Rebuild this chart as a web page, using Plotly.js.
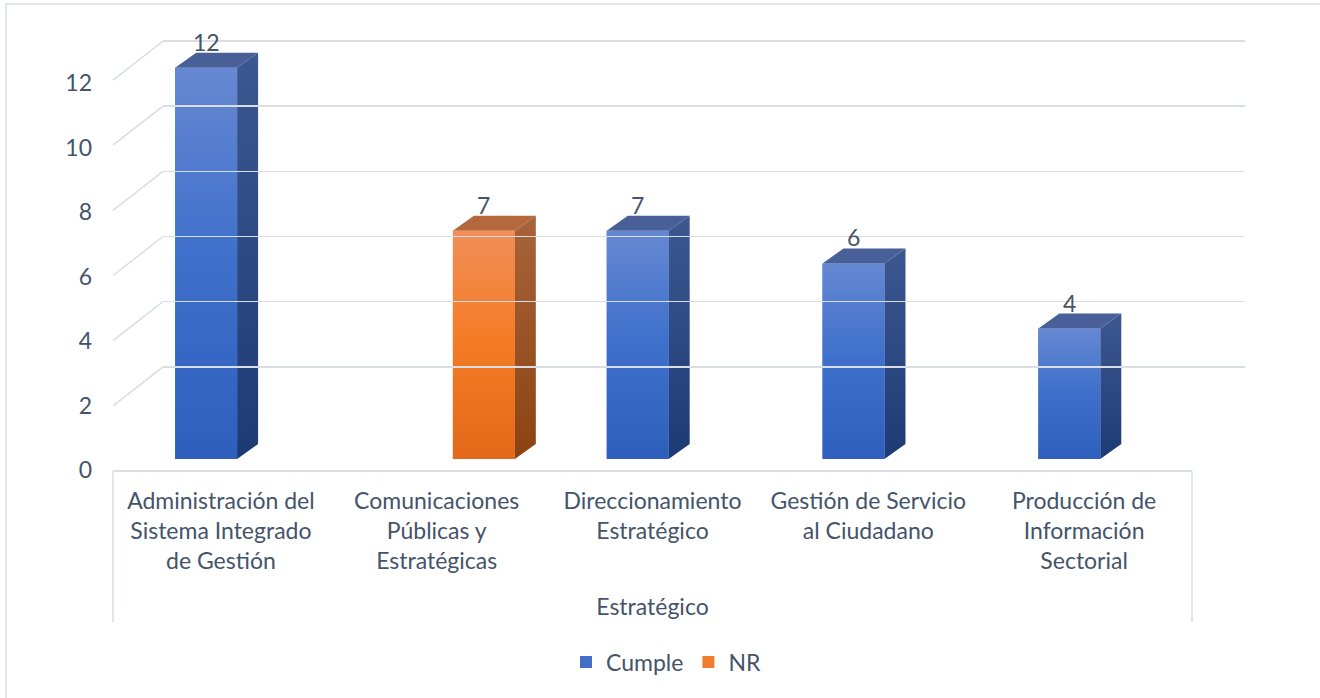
<!DOCTYPE html>
<html>
<head>
<meta charset="utf-8">
<script src="https://cdn.plot.ly/plotly-3.0.1.min.js"></script>
<style>html,body{margin:0;padding:0;background:#fff;}#chart{width:1320px;height:698px;}</style>
</head>
<body>
<div id="chart"></div>
<script>
// ---- data ----
const categories = [
  'Administración del<br>Sistema Integrado<br>de Gestión',
  'Comunicaciones<br>Públicas y<br>Estratégicas',
  'Direccionamiento<br>Estratégico',
  'Gestión de Servicio<br>al Ciudadano',
  'Producción de<br>Información<br>Sectorial'
];
const groupLabel = 'Estratégico';
const seriesNames = ['Cumple', 'NR'];
const cumple = [12, null, 7, 6, 4];
const nr = [null, 7, null, null, null];
const yTicks = [0, 2, 4, 6, 8, 10, 12];

// ---- geometry / style ----
const W = 1320, H = 698;
const fx = p => p / W, fy = p => 1 - p / H;
const X0 = 113, X1 = 1192;            // floor front edge (px)
const catPx = (X1 - X0) / categories.length;
const BAR_BASE = 459, UNIT = 32.6;    // bars: zero line and px per unit
const BACK_BASE = 432, BACK_UNIT = 32.58;
const FRONT_BASE = 470, FRONT_UNIT = 32.25;
const YMAX = 13;
const barW = 0.287;
const offsets = [-0.212, 0.075];
const depthX = 21 / catPx, depthY = 15 / UNIT;
const FONT = 'Lato, "Noto Sans", sans-serif';
const TXT = '#44546A';
const GRID = '#d9dde4';

const styles = [
  {flat: '#4270c8', front: ['#2f5fbd', '#3d6fcb', '#6688d2'], side: ['#1e3a74', '#3d5891'], top: '#485f97'},
  {flat: '#f07c2e', front: ['#e3691a', '#f47b24', '#f28e58'], side: ['#8b4313', '#a9633a'], top: '#b3683d'}
];
const seriesVals = [cumple, nr];
const xIdx = categories.map((_, i) => i);

const traces = [];
const annotations = [];

seriesVals.forEach((vals, s) => {
  traces.push({
    type: 'bar', name: seriesNames[s], x: xIdx, y: vals,
    width: barW, offset: offsets[s],
    marker: {color: styles[s].flat, line: {width: 0}},
    hoverinfo: 'skip', cliponaxis: false, xaxis: 'x', yaxis: 'y'
  });
});

seriesVals.forEach((vals, s) => {
  const st = styles[s];
  vals.forEach((v, i) => {
    if (v === null || v === undefined) return;
    const xl = i + offsets[s], xr = xl + barW;
    const common = {type: 'scatter', mode: 'lines', fill: 'toself', line: {width: 0},
      showlegend: false, hoverinfo: 'skip', xaxis: 'x', yaxis: 'y', cliponaxis: false};
    traces.push(Object.assign({}, common, {
      x: [xr, xr + depthX, xr + depthX, xr, xr],
      y: [0, depthY, v + depthY, v, 0],
      fillcolor: st.side[0],
      fillgradient: {type: 'vertical', colorscale: [[0, st.side[0]], [1, st.side[1]]]}
    }));
    traces.push(Object.assign({}, common, {
      x: [xl, xr, xr + depthX, xl + depthX, xl],
      y: [v, v, v + depthY, v + depthY, v],
      fillcolor: st.top
    }));
    traces.push(Object.assign({}, common, {
      x: [xl, xr, xr, xl, xl],
      y: [0, 0, v, v, 0],
      fillcolor: st.front[1],
      fillgradient: {type: 'vertical', colorscale: [[0, st.front[0]], [0.5, st.front[1]], [1, st.front[2]]]}
    }));
    annotations.push({
      x: (xl + xr) / 2, y: v, xref: 'x', yref: 'y', yshift: 26,
      text: String(v), showarrow: false, font: {family: FONT, size: 23, color: TXT}
    });
  });
});

// helper traces so the auxiliary subplots exist
traces.push({type: 'scatter', x: [], y: [], xaxis: 'x2', yaxis: 'y2', showlegend: false, hoverinfo: 'skip'});
traces.push({type: 'scatter', x: [], y: [], xaxis: 'x3', yaxis: 'y3', showlegend: false, hoverinfo: 'skip'});

const shapes = [];
// receding grid lines from front edge to back wall
yTicks.forEach(v => {
  shapes.push({type: 'line', xref: 'paper', yref: 'y2', ysizemode: 'pixel', yanchor: v,
    x0: fx(X0), x1: fx(163), y0: -39, y1: 0, line: {color: GRID, width: 1.5}, layer: 'below'});
});
// group separators below the floor
[X0, X1].forEach(p => {
  shapes.push({type: 'line', xref: 'paper', yref: 'paper', x0: fx(p), x1: fx(p), y0: fy(471), y1: fy(622),
    line: {color: GRID, width: 1.5}, layer: 'below'});
});
// outer chart border
shapes.push({type: 'rect', xref: 'paper', yref: 'paper', x0: fx(6), x1: 1.02, y0: -0.02, y1: fy(4),
  line: {color: GRID, width: 1.5}, layer: 'below'});

const layout = {
  width: W, height: H,
  margin: {l: 0, r: 0, t: 0, b: 0},
  paper_bgcolor: '#ffffff', plot_bgcolor: 'rgba(0,0,0,0)',
  barmode: 'overlay',
  font: {family: FONT, color: TXT, size: 23},
  showlegend: true,
  legend: {orientation: 'h', x: fx(666), xanchor: 'center', y: fy(662), yanchor: 'middle',
    font: {family: FONT, size: 23, color: TXT}, bgcolor: 'rgba(0,0,0,0)', traceorder: 'normal'},
  xaxis: {domain: [fx(X0), fx(X1)], range: [-0.5, categories.length - 0.5], anchor: 'y',
    showgrid: false, zeroline: false, showline: false, showticklabels: false, fixedrange: true},
  yaxis: {domain: [fy(BAR_BASE), fy(BAR_BASE - YMAX * UNIT)], range: [0, YMAX], anchor: 'x',
    showgrid: false, zeroline: false, showline: false, showticklabels: false, fixedrange: true},
  xaxis2: {domain: [fx(163), fx(1245)], range: [0, 1], anchor: 'y2',
    showgrid: false, zeroline: false, showline: false, showticklabels: false, fixedrange: true},
  yaxis2: {domain: [fy(BACK_BASE), fy(BACK_BASE - YMAX * BACK_UNIT)], range: [0, YMAX], anchor: 'x2',
    tickvals: yTicks, showgrid: true, gridcolor: GRID, gridwidth: 1.5, zeroline: false,
    showline: false, showticklabels: false, fixedrange: true},
  xaxis3: {domain: [fx(X0), fx(X1)], range: [-0.5, categories.length - 0.5], anchor: 'y3',
    tickvals: xIdx, ticktext: categories, ticks: '', showgrid: false, zeroline: false,
    showline: true, linecolor: GRID, linewidth: 1.5, ticklabelstandoff: 10,
    tickfont: {family: FONT, size: 23, color: TXT},
    title: {text: groupLabel, standoff: 26, font: {family: FONT, size: 23, color: TXT}},
    fixedrange: true, automargin: false},
  yaxis3: {domain: [fy(FRONT_BASE), fy(FRONT_BASE - YMAX * FRONT_UNIT)], range: [0, YMAX], anchor: 'x3',
    tickvals: yTicks, ticks: '', showgrid: false, zeroline: false, showline: false,
    ticklabelstandoff: 20, tickfont: {family: FONT, size: 23, color: TXT}, fixedrange: true, automargin: false},
  shapes: shapes,
  annotations: annotations
};

Plotly.newPlot('chart', traces, layout, {displayModeBar: false, staticPlot: true});
</script>
</body>
</html>
